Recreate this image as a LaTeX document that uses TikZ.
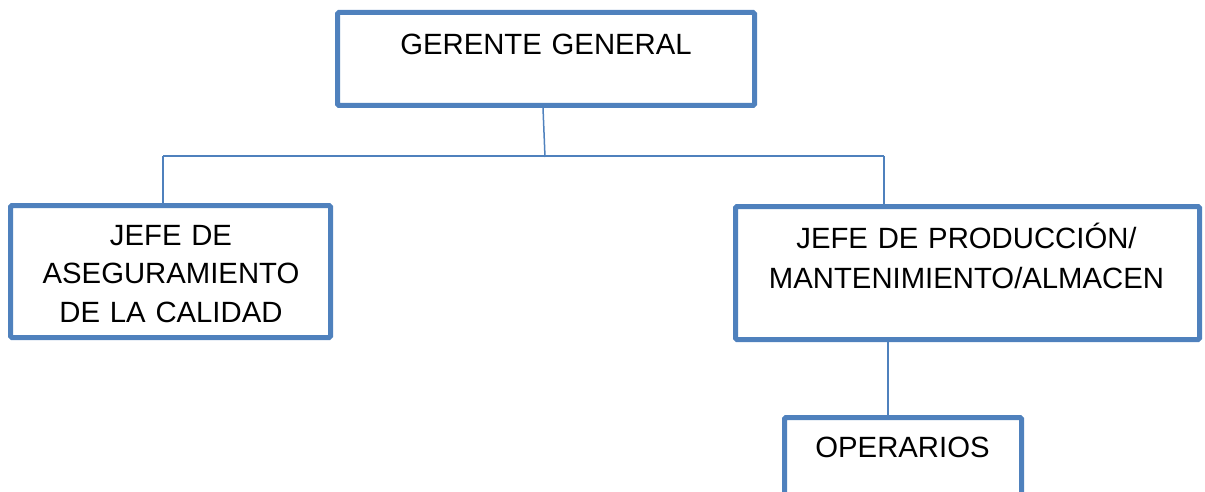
\documentclass[tikz,border=0pt]{standalone}
\usepackage{fontspec}
\setmainfont{Liberation Sans}
\definecolor{orgblue}{HTML}{4F81BD}
\begin{document}
\begin{tikzpicture}[x=1pt,y=-1pt,
  box/.style={draw=orgblue, line width=5pt, rounded corners=1.5pt, rectangle, inner sep=0pt, fill=white},
  link/.style={draw=orgblue, line width=1.5pt},
  lbl/.style={inner sep=0pt, anchor=base, align=center, font=\fontsize{29.3}{38.5}\selectfont}]
\useasboundingbox (0,0) rectangle (1205,492);

% boxes of the chart
\node[box, minimum width=417pt, minimum height=93pt] (gg) at (546,59) {};
\node[box, minimum width=320pt, minimum height=132pt] (jac) at (170.5,271.5) {};
\node[box, minimum width=464pt, minimum height=133pt] (jp) at (967.5,273) {};
\node[box, minimum width=237pt, minimum height=93pt] (op) at (903,464) {};

% texts, set at the top of each box
\node[lbl, text width=400pt] (ggt) at (546,55) {GERENTE GENERAL};
\node[lbl, text width=300pt] (jact) at (171,245) {JEFE DE\\ASEGURAMIENTO\\DE LA CALIDAD};
\node[lbl, text width=440pt, font=\fontsize{29.3}{40}\selectfont] (jpt) at (966.5,248) {JEFE DE PRODUCCIÓN/\\MANTENIMIENTO/ALMACEN};
\node[lbl, text width=220pt] (opt) at (902.5,457) {OPERARIOS};

% connectors
\coordinate (busL) at (163,156);
\coordinate (busM) at (545,157);
\coordinate (busR) at (884,156);
\draw[link] ([xshift=-3pt]gg.south) -- (busM);
\draw[link] (busL) -- (busR);
\draw[link] (busL) -- (busL |- jac.north);
\draw[link] (busR) -- (busR |- jp.north);
\draw[link] ([xshift=-79.5pt]jp.south) -- ([xshift=-79.5pt]jp.south |- op.north);
\end{tikzpicture}
\end{document}
